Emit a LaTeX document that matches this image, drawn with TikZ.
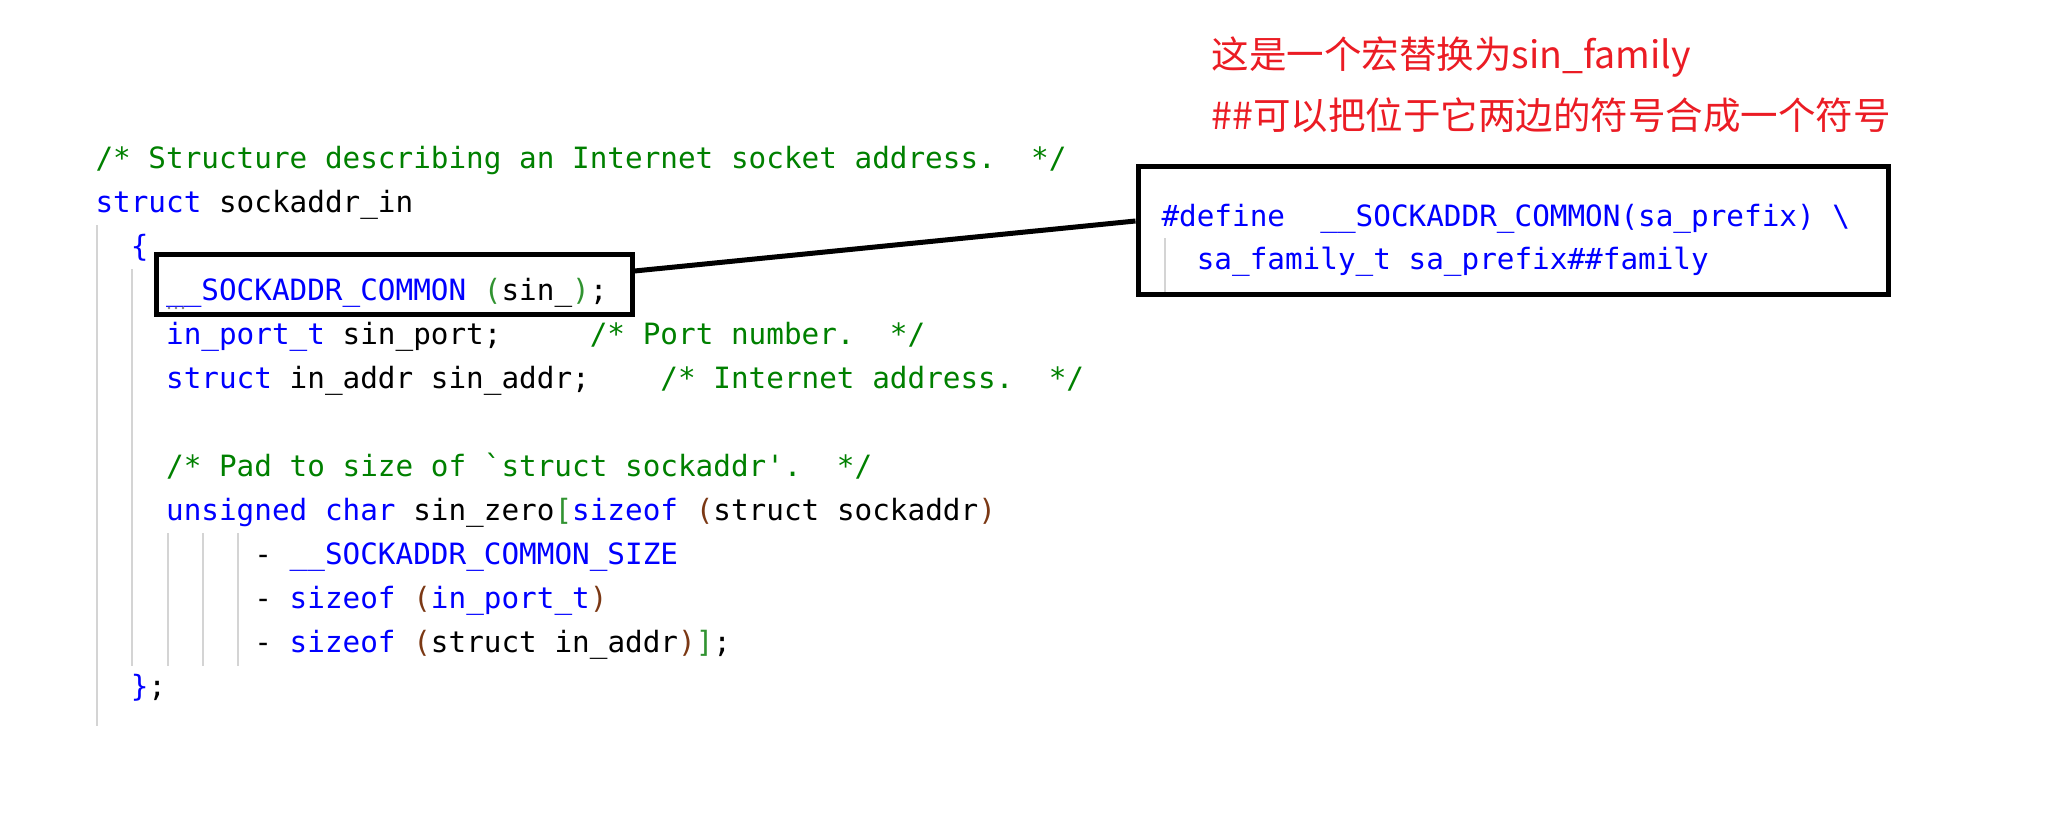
\documentclass[tikz,border=0pt]{standalone}
\usepackage{fontspec}
\usepackage{xcolor}
\usepackage{tikz}
\usetikzlibrary{positioning}
\setmonofont{DejaVu Sans Mono}
\newfontfamily\cjk{Noto Sans CJK SC}
\definecolor{kwblue}{RGB}{0,0,255}
\definecolor{cmgreen}{RGB}{0,128,0}
\definecolor{parone}{RGB}{49,147,49}
\definecolor{partwo}{RGB}{123,56,20}
\definecolor{notered}{RGB}{235,28,36}
\definecolor{guidegray}{RGB}{212,212,212}
\newcommand{\kw}[1]{\textcolor{kwblue}{#1}}
\newcommand{\cmt}[1]{\textcolor{cmgreen}{#1}}
\newcommand{\pone}[1]{\textcolor{parone}{#1}}
\newcommand{\ptwo}[1]{\textcolor{partwo}{#1}}

\begin{document}
\begin{tikzpicture} [
	x=0.4pt, y=-0.4pt, % one unit is one pixel of the screenshot
	code/.style={anchor=base west, inner sep=0pt, font=\ttfamily\fontsize{11.73}{13}\selectfont\frenchspacing}, % code lines
	note/.style={anchor=base west, inner sep=0pt, text=notered, font=\cjk\fontsize{15}{18}\selectfont}, % red remarks
	hlbox/.style={draw, line width=2pt, inner sep=0pt}, % black frames
	guide/.style={draw=guidegray, line width=0.8pt}, % indent guides
	]
	\useasboundingbox (0,0) rectangle (2051,827);

	% remarks
	\node[note] (r0) at (1211,68) {这是一个宏替换为sin\_family};
	\node[note] (r1) at (1211,129) {\#\#可以把位于它两边的符号合成一个符号};

	% indent guides
	\draw[guide] (97,225) -- (97,726);
	\draw[guide] (132.3,269) -- (132.3,666);
	\foreach \c in {4,6,8}
		\draw[guide] (97+17.65*\c,533) -- (97+17.65*\c,666);
	\draw[guide] (1165,238) -- (1165,292);

	% struct sockaddr_in
	\node[code] (c0) at (95,168) {\cmt{/* Structure describing an Internet socket address.~~*/}};
	\node[code] (c1) at (95,212) {\kw{struct} sockaddr\_in};
	\node[code] (c2) at (130.3,256) {\kw{\{}};
	\node[code] (c3) at (165.6,300) {\kw{\_\_SOCKADDR\_COMMON} \pone{(}sin\_\pone{)};};
	\node[code] (c4) at (165.6,344) {\kw{in\_port\_t} sin\_port;~~~~~\cmt{/* Port number.~~*/}};
	\node[code] (c5) at (165.6,388) {\kw{struct} in\_addr sin\_addr;~~~~\cmt{/* Internet address.~~*/}};
	\node[code] (c7) at (165.6,476) {\cmt{/* Pad to size of \textasciigrave{}struct sockaddr\textquotesingle.~~*/}};
	\node[code] (c8) at (165.6,520) {\kw{unsigned} \kw{char} sin\_zero\pone{[}\kw{sizeof} \ptwo{(}struct sockaddr\ptwo{)}};
	\node[code] (c9) at (253.9,564) {- \kw{\_\_SOCKADDR\_COMMON\_SIZE}};
	\node[code] (c10) at (253.9,608) {- \kw{sizeof} \ptwo{(}\kw{in\_port\_t}\ptwo{)}};
	\node[code] (c11) at (253.9,652) {- \kw{sizeof} \ptwo{(}struct in\_addr\ptwo{)}\pone{]};};
	\node[code] (c12) at (130.3,696) {\kw{\}};};

	% marker dots under the macro name
	\foreach \x in {169,176,183}
		\fill[gray] (\x,308) circle (1.3);

	% the macro definition
	\node[code] (d0) at (1161,226) {\kw{\#define~~\_\_SOCKADDR\_COMMON(sa\_prefix) \textbackslash}};
	\node[code] (d1) at (1196.3,269) {\kw{sa\_family\_t sa\_prefix\#\#family}};

	% frames and the link between them
	\node[hlbox, minimum width=190pt, minimum height=24pt] (box1) at (394.5,284) {};
	\node[hlbox, minimum width=300pt, minimum height=51.2pt] (box2) at (1513,230) {};
	\draw[line width=2pt] ([yshift=5.2pt]box1.east) -- ([yshift=3.6pt]box2.west);
\end{tikzpicture}
\end{document}
